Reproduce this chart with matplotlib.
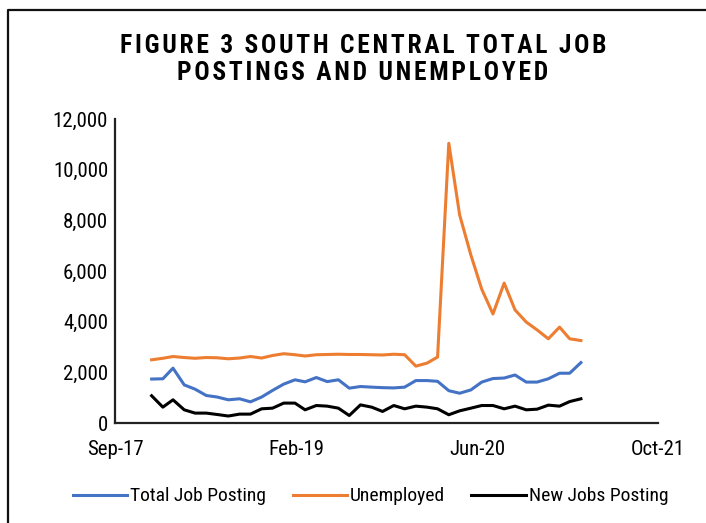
import pandas as pd
import numpy as np
import matplotlib
matplotlib.use('Agg')
import matplotlib.pyplot as plt
import matplotlib.dates as mdates
from matplotlib import font_manager
from matplotlib.lines import Line2D
from matplotlib.ticker import FuncFormatter

# monthly data, Jan-2018 .. Apr-2021
months = pd.date_range('2018-01-01', periods=40, freq='MS')

total_job_posting = [1740, 1750, 2170, 1510, 1340, 1090, 1030, 920, 960, 840,
                     1030, 1290, 1540, 1710, 1630, 1800, 1640, 1710, 1380, 1445,
                     1420, 1400, 1390, 1420, 1680, 1680, 1650, 1280, 1180, 1310,
                     1620, 1760, 1780, 1900, 1620, 1620, 1750, 1970, 1970, 2390]

unemployed = [2500, 2560, 2630, 2590, 2560, 2590, 2580, 2540, 2570, 2630,
              2570, 2670, 2740, 2700, 2650, 2700, 2710, 2720, 2710, 2710,
              2700, 2690, 2720, 2700, 2250, 2370, 2610, 11050, 8220, 6640,
              5290, 4310, 5530, 4470, 3990, 3680, 3330, 3790, 3330, 3260]

new_jobs_posting = [1080, 630, 920, 525, 395, 395, 340, 280, 355, 355,
                    565, 590, 790, 790, 525, 695, 670, 590, 300, 720,
                    630, 460, 695, 565, 670, 630, 565, 330, 485, 590,
                    695, 695, 565, 670, 525, 550, 710, 670, 850, 960]

x_start = pd.Timestamp('2017-09-22')
x_ticks = [x_start + pd.Timedelta(days=500 * k) for k in range(4)]

# pick a narrow sans if one is installed
installed = {f.name for f in font_manager.fontManager.ttflist}
narrow = [n for n in ['Liberation Sans Narrow', 'DejaVu Sans Condensed', 'Roboto Condensed',
                      'Open Sans Condensed', 'Roboto'] if n in installed]
font = narrow[0] if narrow else 'DejaVu Sans'
condensed = font in ('Liberation Sans Narrow', 'DejaVu Sans Condensed', 'Roboto Condensed')
scale = 1.0 if condensed else 0.9

fig = plt.figure(figsize=(7.06, 5.23), dpi=100)
ax = fig.add_axes([0.163, 0.191, 0.769, 0.581])

ax.plot(months, total_job_posting, color='#4472C4', linewidth=2.2, label='Total Job Posting')
ax.plot(months, unemployed, color='#ED7D31', linewidth=2.2, label='Unemployed')
ax.plot(months, new_jobs_posting, color='black', linewidth=2.2, label='New Jobs Posting')

ax.set_xlim(x_ticks[0], x_ticks[-1])
ax.set_ylim(0, 12000)
ax.set_xticks(x_ticks)
ax.xaxis.set_major_formatter(mdates.DateFormatter('%b-%y'))
ax.set_yticks(np.arange(0, 12001, 2000))
ax.yaxis.set_major_formatter(FuncFormatter(lambda v, p: f'{int(v):,}'))

for lab in ax.get_xticklabels() + ax.get_yticklabels():
    lab.set_fontfamily(font)
    lab.set_fontsize(15 * scale)
ax.tick_params(axis='x', length=0, pad=12)
ax.tick_params(axis='y', length=0, pad=5)

for s in ['top', 'right']:
    ax.spines[s].set_visible(False)
for s in ['left', 'bottom']:
    ax.spines[s].set_linewidth(1.6)
    ax.spines[s].set_color('#222222')

# letter-spaced title, hair spaces between characters
title_lines = ['FIGURE 3 SOUTH CENTRAL TOTAL JOB', 'POSTINGS AND UNEMPLOYED']
title = '\n'.join('\u200a'.join(line) for line in title_lines)
fig.text(0.514, 0.886, title, ha='center', va='center',
         fontsize=(18.4 if condensed else 15), fontweight='bold',
         fontfamily=[font, 'DejaVu Sans'], linespacing=1.18)

fig.legend(loc='center', bbox_to_anchor=(0.525, 0.051), ncol=3, frameon=False,
           prop={'family': font, 'size': 14 * scale}, handlelength=2.8,
           handletextpad=0.15, columnspacing=1.35)

# outer chart border (cropped on the right and bottom)
fig.add_artist(Line2D([8 / 706, 8 / 706, 1], [0, 1 - 10 / 523, 1 - 10 / 523],
                      transform=fig.transFigure, color='#111111', linewidth=1.6))

fig.savefig('out.png', dpi=100)
